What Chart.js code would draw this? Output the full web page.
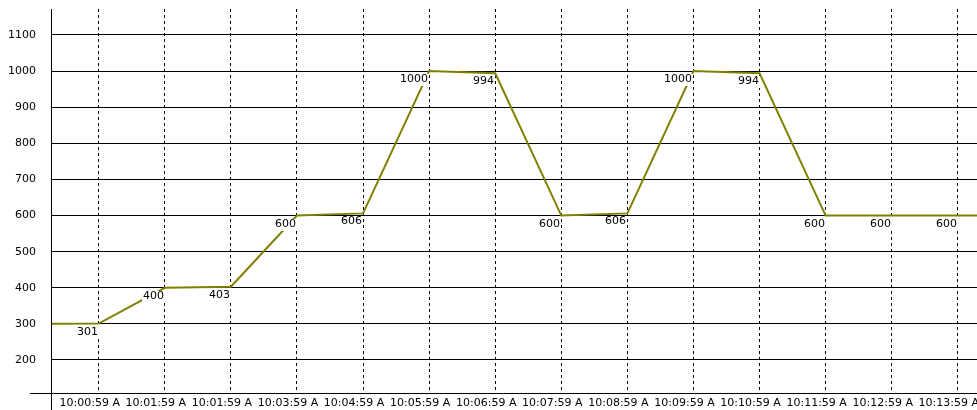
<html>
<head>
<style>
  html, body { margin:0; padding:0; background:#fff; }
  #wrap { width:977px; height:410px; position:relative; }
</style>
<script src="https://cdn.jsdelivr.net/npm/chart.js@4.4.0/dist/chart.umd.min.js"></script>
<script type="text/javascript">

// tick labels under each dashed line
var timeLabels = ["10:00:59 A","10:01:59 A","10:01:59 A","10:03:59 A","10:04:59 A","10:05:59 A","10:06:59 A",
                  "10:07:59 A","10:08:59 A","10:09:59 A","10:10:59 A","10:11:59 A","10:12:59 A","10:13:59 A"];
// values at each labelled time
var values = [301,400,403,600,606,1000,994,600,606,1000,994,600,600,600];
// the line runs in from the left edge and out at the right edge
var leadValue = 300;
var trailValue = 600;
var yTicks = [200,300,400,500,600,700,800,900,1000,1100];

var FONT = "DejaVu Sans";

function buildPoints() {
  var pts = [{x:-1, y:leadValue}];
  for (var i = 0; i < values.length; i++) pts.push({x:i, y:values[i]});
  pts.push({x:values.length, y:trailValue});
  return pts;
}

function noPad(s) {
  s.paddingLeft = 0; s.paddingRight = 0; s.paddingTop = 0; s.paddingBottom = 0;
}

var axesAndLabels = {
  id: 'axesAndLabels',
  afterDatasetsDraw: function(chart) {
    var ctx = chart.ctx, a = chart.chartArea;
    var xs = chart.scales.x, ys = chart.scales.y;
    ctx.save();
    // value labels, with white box behind
    ctx.font = "11px '" + FONT + "'";
    ctx.textAlign = 'right';
    ctx.textBaseline = 'top';
    for (var i = 0; i < values.length; i++) {
      var px = Math.round(xs.getPixelForValue(i));
      var py = Math.round(ys.getPixelForValue(values[i]));
      var txt = String(values[i]);
      var w = ctx.measureText(txt).width;
      ctx.fillStyle = '#fff';
      ctx.fillRect(px - 1 - w - 1, py + 3, w + 2, 12);
      ctx.fillStyle = '#000';
      ctx.fillText(txt, px - 1, py + 3);
    }
    // axis lines
    ctx.strokeStyle = '#000';
    ctx.lineWidth = 1;
    ctx.beginPath();
    ctx.moveTo(a.left + 0.5, a.top);
    ctx.lineTo(a.left + 0.5, chart.height);
    ctx.moveTo(30, a.bottom + 0.5);
    ctx.lineTo(a.right, a.bottom + 0.5);
    ctx.stroke();
    ctx.restore();
  }
};

function init() {
  var ctx = document.getElementById("canvasDiv");
  new Chart(ctx, {
    type: 'line',
    data: {
      datasets: [{
        data: buildPoints(),
        borderColor: "#808000",
        borderWidth: 2,
        pointRadius: 0,
        fill: false,
        tension: 0
      }]
    },
    options: {
      responsive: false,
      animation: false,
      layout: { padding: { top: 9, right: 0, left: 0, bottom: 0 } },
      plugins: { legend: { display: false }, tooltip: { enabled: false } },
      scales: {
        x: {
          type: 'linear',
          min: -0.722,
          max: 13.29,
          afterBuildTicks: function(s) { s.ticks = timeLabels.map(function(_, i) { return {value: i}; }); },
          afterFit: function(s) { s.height = 17; noPad(s); },
          grid: { color: '#000', lineWidth: 1, drawTicks: false },
          border: { display: false, dash: [3,3] },
          ticks: {
            autoSkip: false, maxRotation: 0, padding: 4, labelOffset: -9,
            color: '#000', font: { family: FONT, size: 11 },
            callback: function(v) { return timeLabels[v] || ''; }
          }
        },
        y: {
          min: 108.6,
          max: 1172,
          afterBuildTicks: function(s) { s.ticks = yTicks.map(function(v) { return {value: v}; }); },
          afterFit: function(s) { s.width = 51; noPad(s); },
          grid: { color: '#000', lineWidth: 1, drawTicks: false },
          border: { display: false },
          ticks: {
            padding: 15, color: '#000', font: { family: FONT, size: 11 },
            callback: function(v) { return String(v); }
          }
        }
      }
    },
    plugins: [axesAndLabels]
  });
}
</script>
</head>
<body onload="init()">
<div id="wrap">
  <canvas id="canvasDiv" width="977" height="410"></canvas>
</div>
</body>
</html>
